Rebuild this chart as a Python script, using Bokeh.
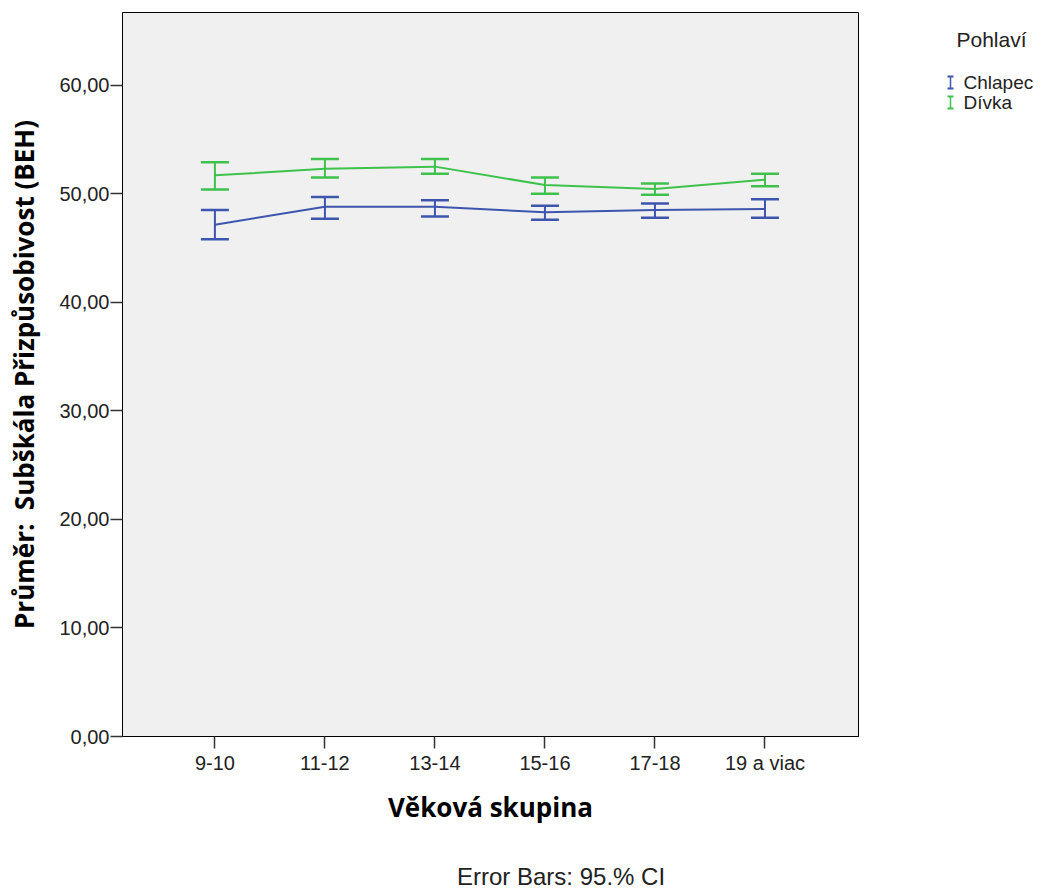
from bokeh.plotting import figure
from bokeh.models import ColumnDataSource, Range1d, FixedTicker, Whisker, TeeHead, Div
from bokeh.layouts import row, column
from bokeh.core.properties import value
from bokeh.embed import file_html
from bokeh.resources import INLINE

categories = ["9-10", "11-12", "13-14", "15-16", "17-18", "19 a viac"]
chlapec_mean = [47.15, 48.8, 48.8, 48.3, 48.5, 48.6]
chlapec_lower = [45.8, 47.7, 47.9, 47.6, 47.8, 47.8]
chlapec_upper = [48.5, 49.7, 49.4, 48.9, 49.1, 49.5]
divka_mean = [51.7, 52.3, 52.5, 50.8, 50.45, 51.3]
divka_lower = [50.4, 51.5, 51.85, 50.0, 49.9, 50.7]
divka_upper = [52.9, 53.2, 53.2, 51.5, 50.95, 51.85]
y_ticks = [0, 10, 20, 30, 40, 50, 60]
series_names = ["Chlapec", "Dívka"]
legend_title = "Pohlaví"
caption = "Error Bars: 95.% CI"

BLUE = "#3e55ad"
GREEN = "#3ec24c"
colors = [BLUE, GREEN]
TXT = "#222222"

xs = list(range(len(categories)))
MAIN_W, H = 900, 865
CAP_H = 889 - H
F_TOP, F_BOT = 12, 736

p = figure(width=MAIN_W, height=H, output_backend="svg", toolbar_location=None,
           x_range=Range1d(-0.84, 5.85), y_range=Range1d(0, 66.7),
           min_border_left=122, min_border_top=F_TOP, min_border_right=MAIN_W - 858,
           min_border_bottom=H - F_BOT)
p.background_fill_color = "#f0f0f0"
p.border_fill_color = "white"
p.outline_line_color = "black"
p.outline_line_width = 1
p.xgrid.visible = False
p.ygrid.visible = False

for mean, lo, up, col in [(chlapec_mean, chlapec_lower, chlapec_upper, colors[0]),
                          (divka_mean, divka_lower, divka_upper, colors[1])]:
    src = ColumnDataSource(dict(x=xs, y=mean, lower=lo, upper=up))
    p.line("x", "y", source=src, line_color=col, line_width=2)
    p.add_layout(Whisker(source=src, base="x", upper="upper", lower="lower",
                         line_color=col, line_width=2,
                         upper_head=TeeHead(size=28, line_color=col, line_width=2.5),
                         lower_head=TeeHead(size=28, line_color=col, line_width=2.5)))

p.xaxis.ticker = FixedTicker(ticks=xs)
p.xaxis.major_label_overrides = {i: c for i, c in enumerate(categories)}
p.yaxis.ticker = FixedTicker(ticks=y_ticks)
p.yaxis.major_label_overrides = {t: f"{t},00" for t in y_ticks}
for ax in (p.xaxis[0], p.yaxis[0]):
    ax.major_tick_in = 0
    ax.major_tick_out = 12
    ax.minor_tick_line_color = None
    ax.axis_line_color = "black"
    ax.major_tick_line_color = "#333333"
    ax.major_tick_line_width = 1.5
    ax.major_label_text_font = "Liberation Sans"
    ax.major_label_text_font_size = "20px"
    ax.major_label_text_color = TXT
    ax.axis_label_text_font = "Open Sans"
    ax.axis_label_text_font_style = "bold"
    ax.axis_label_text_font_size = "26px"
    ax.axis_label_text_color = "black"
p.xaxis.axis_label = "Věková skupina"
p.yaxis.axis_label = "Průměr:\u00a0 Subškála Přizpůsobivost (BEH)"
p.xaxis.major_label_standoff = 3
p.xaxis.axis_label_standoff = 12
p.yaxis.major_label_standoff = 1
p.yaxis.axis_label_standoff = 14

# legend panel (its frame is aligned with the main frame: canvas y F_TOP..F_BOT)
LEG_W = 1042 - MAIN_W
q = figure(width=LEG_W, height=H, output_backend="svg", toolbar_location=None,
           x_range=Range1d(MAIN_W, 1042), y_range=Range1d(F_BOT, F_TOP),
           x_axis_type=None, y_axis_type=None, min_border=0)
q.outline_line_color = None
q.background_fill_color = "white"
q.border_fill_color = "white"

q.text(x=[991], y=[39], text=[legend_title], text_font=value("Liberation Sans"),
       text_font_size="21px", text_color=TXT, text_align="center", text_baseline="middle")
item_y = [82, 102]
q.text(x=[963] * len(series_names), y=item_y, text=series_names, text_font=value("Liberation Sans"),
       text_font_size="19px", text_color=TXT, text_align="left", text_baseline="middle")
for yy, col in zip(item_y, colors):
    q.segment(x0=[950], y0=[yy - 6], x1=[950], y1=[yy + 6], line_color=col, line_width=1.5)
    q.segment(x0=[947, 947], y0=[yy - 6, yy + 6], x1=[953, 953], y1=[yy - 6, yy + 6],
              line_color=col, line_width=2)

cap = Div(text=caption, width=1042, height=CAP_H,
          styles={"font-family": "Liberation Sans", "font-size": "24px", "line-height": "24px",
                  "color": TXT, "padding-left": "457px", "box-sizing": "border-box",
                  "white-space": "nowrap", "margin": "0"})

layout = column(row(p, q), cap)
open("out.html", "w").write(file_html(layout, INLINE))
